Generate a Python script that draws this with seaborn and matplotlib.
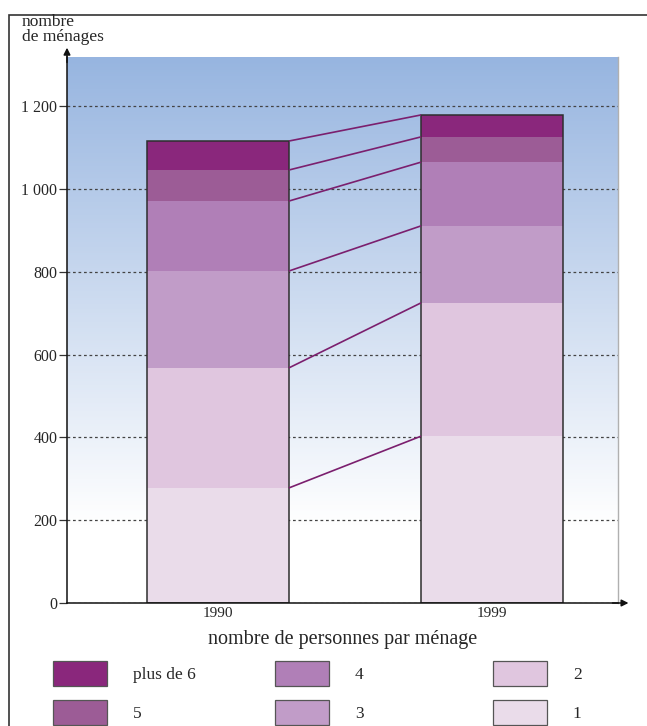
import numpy as np
import pandas as pd
import matplotlib
matplotlib.use("Agg")
import matplotlib.pyplot as plt
import seaborn as sns
from matplotlib.colors import LinearSegmentedColormap
from matplotlib.patches import Rectangle, Patch
from matplotlib.ticker import FixedLocator

# Data (number of households by household size)
years = ["1990", "1999"]
sizes = ["1", "2", "3", "4", "5", "plus de 6"]
menages_1990 = [278, 290, 234, 169, 75, 70]
menages_1999 = [403, 322, 186, 154, 61, 53]
y_ticks = [0, 200, 400, 600, 800, 1000, 1200]
y_tick_labels = ["0", "200", "400", "600", "800", "1 000", "1 200"]
colors = ["#eadcea", "#e0c6df", "#c19cc8", "#b07fb7", "#9c5c96", "#8a277c"]

sns.set_style("white")
plt.rcParams["font.family"] = ["Liberation Serif", "DejaVu Serif"]

# long table with cumulative heights for stacking
rows = []
for year, vals in zip(years, [menages_1990, menages_1999]):
    cum = np.cumsum(vals)
    for size, v, c in zip(sizes, vals, cum):
        rows.append({"annee": year, "taille": size, "valeur": v, "cumul": c})
df = pd.DataFrame(rows)

fig = plt.figure(figsize=(6.47, 7.26), dpi=100)
ax = fig.add_axes([67 / 647, 1 - 603 / 726, 551 / 647, 546 / 726])

bar_w = 0.518
xlim = (-0.551, 1.46)
ylim = (0, 1319)

# background gradient (white at the bottom, blue at the top)
cmap = LinearSegmentedColormap.from_list(
    "fond", [(0, "#ffffff"), (190 / ylim[1], "#ffffff"), (1, "#97b5e0")])
grad = np.linspace(0, 1, 512).reshape(-1, 1)
ax.imshow(grad, extent=(xlim[0], xlim[1], ylim[0], ylim[1]), origin="lower",
          aspect="auto", cmap=cmap, zorder=0)

# stacked bars: draw cumulative totals from top layer down
for size, col in reversed(list(zip(sizes, colors))):
    sub = df[df["taille"] == size]
    sns.barplot(data=sub, x="annee", y="cumul", color=col, width=bar_w,
                linewidth=0, edgecolor="none", saturation=1, ax=ax, zorder=1)

# outline of each whole bar
tot = df[df["taille"] == sizes[-1]]
sns.barplot(data=tot, x="annee", y="cumul", fill=False, color="#2e2e2e",
            width=bar_w, linewidth=1.1, ax=ax, zorder=2)

# connecting lines between matching boundaries
cum90 = np.cumsum(menages_1990)
cum99 = np.cumsum(menages_1999)
for a, b in zip(cum90, cum99):
    ax.plot([bar_w / 2, 1 - bar_w / 2], [a, b], color="#7b1f6e", lw=1.2,
            zorder=3, solid_capstyle="butt")

ax.set_xlim(*xlim)
ax.set_ylim(*ylim)
ax.yaxis.set_major_locator(FixedLocator(y_ticks))
ax.set_yticklabels(y_tick_labels)
ax.grid(axis="y", linestyle=(0, (2.2, 2.2)), color="#444444", lw=0.9)
ax.grid(axis="x", visible=False)
ax.set_axisbelow(True)

ax.tick_params(axis="y", length=6, width=0.9, color="#333333", pad=1,
               labelsize=11.5, left=True)
ax.tick_params(axis="x", length=0, pad=3, labelsize=11)
ax.set_xlabel("nombre de personnes par ménage", fontsize=14.5, labelpad=7)
ax.set_ylabel("")

for side in ["left", "bottom"]:
    ax.spines[side].set_color("#111111")
    ax.spines[side].set_linewidth(1.1)
ax.spines["top"].set_visible(False)
ax.spines["right"].set_color("#b0b0b0")
ax.spines["right"].set_linewidth(1.0)

# axis arrows
ax.annotate("", xy=(0, 1.017), xytext=(0, 0.99), xycoords="axes fraction",
            arrowprops=dict(arrowstyle="-|>", color="#111111", lw=1.1,
                            mutation_scale=10, shrinkA=0, shrinkB=0))
ax.annotate("", xy=(1.019, 0), xytext=(0.99, 0), xycoords="axes fraction",
            arrowprops=dict(arrowstyle="-|>", color="#111111", lw=1.1,
                            mutation_scale=10, shrinkA=0, shrinkB=0))

fig.text(22 / 647, 1 - 45 / 726, "nombre\nde ménages", fontsize=12.5,
         ha="left", va="bottom", linespacing=0.88)

# outer frame of the figure
fig.patches.append(Rectangle((9 / 647, -0.2), 2, 1.2 - 15 / 726,
                             transform=fig.transFigure, fill=False,
                             edgecolor="#333333", lw=1.2))

# legend: three columns of two entries
cols_pos = [53, 275, 493]
for k, x0 in enumerate(cols_pos):
    idx = [5 - 2 * k, 4 - 2 * k]
    handles = [Patch(facecolor=colors[i], edgecolor="#555555", lw=0.9) for i in idx]
    labels = [sizes[i] for i in idx]
    fig.legend(handles, labels, loc="upper left",
               bbox_to_anchor=(x0 / 647, 1 - 661 / 726), frameon=False,
               fontsize=12.5, handlelength=3.1, handleheight=1.85,
               handletextpad=1.5, labelspacing=0.8, borderpad=0,
               borderaxespad=0)

fig.savefig("out.png", dpi=100)
